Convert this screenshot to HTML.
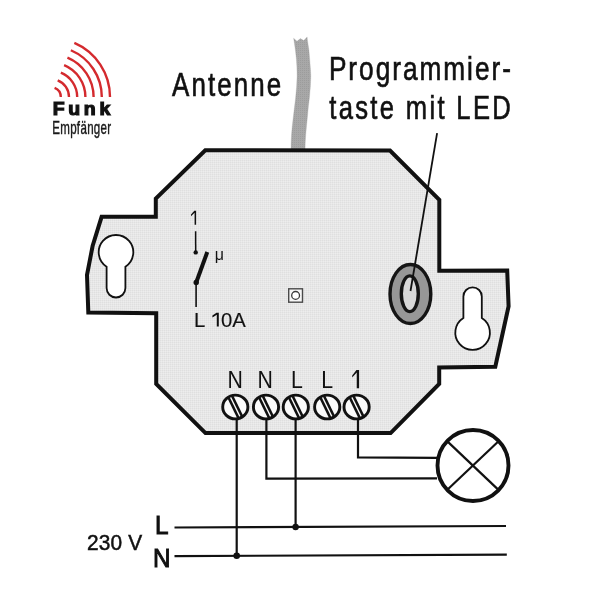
<!DOCTYPE html>
<html><head><meta charset="utf-8"><title>Funk Empfänger</title>
<style>
html,body{margin:0;padding:0;background:#fff;width:600px;height:600px;overflow:hidden}
svg{display:block;will-change:transform}
text{font-family:"Liberation Sans",sans-serif}
</style></head><body>
<svg width="600" height="600" viewBox="0 0 600 600">
<defs>
<pattern id="dith" width="2" height="2" patternUnits="userSpaceOnUse">
<rect width="2" height="2" fill="#e7e7e7"/>
<rect width="1" height="1" fill="#dfdfdf"/>
<rect x="1" y="1" width="1" height="1" fill="#ededed"/>
</pattern>
<pattern id="dith2" width="2" height="2" patternUnits="userSpaceOnUse">
<rect width="2" height="2" fill="#a8a8a8"/>
<rect width="1" height="1" fill="#9c9c9c"/>
</pattern>
</defs>
<rect width="600" height="600" fill="#fff"/>

<path d="M54.59 87.88 A9.80 9.80 0 0 1 60.80 97.00 M57.68 80.29 A18.00 18.00 0 0 1 69.00 97.00 M60.86 72.72 A26.20 26.20 0 0 1 77.20 97.00 M64.11 65.20 A34.40 34.40 0 0 1 85.40 97.00 M67.44 57.70 A42.60 42.60 0 0 1 93.60 97.00 M70.85 50.24 A50.80 50.80 0 0 1 101.80 97.00 M74.34 42.81 A59.00 59.00 0 0 1 110.00 97.00" fill="none" stroke="#d42a2e" stroke-width="2.4"/>
<text transform="translate(52.70 115.00) scale(1.03 1)" font-size="18.9" font-weight="bold" letter-spacing="3.59" fill="#111" stroke="#111" stroke-width="1.2">Funk</text>
<text transform="translate(52.20 134.10) scale(0.62 1)" font-size="18.6" letter-spacing="0.52" fill="#1a1a1a" stroke="#1a1a1a" stroke-width="0.45">Empfänger</text>
<text transform="translate(172.00 96.30) scale(0.79 1)" font-size="32.8" letter-spacing="2.66" fill="#111" stroke="#111" stroke-width="0.65">Antenne</text>
<text transform="translate(328.90 79.90) scale(0.8 1)" font-size="32.8" letter-spacing="2.47" fill="#111" stroke="#111" stroke-width="0.65">Programmier-</text>
<text transform="translate(329.20 118.80) scale(0.78 1)" font-size="32.8" letter-spacing="3.00" fill="#111" stroke="#111" stroke-width="0.65">taste mit LED</text>
<path d="M293.6 38.3 L297 41.3 L300.4 38.6 L303.75 40.6 L307.1 36.9 L307.4 40 L308.9 50 L309.75 60 L310.5 70 L310.8 76 L310.4 86 L309.5 97 L308.4 106 L307.6 115 L306.6 125 L305.7 135 L305.2 143 L305 151 L291 151 L291.1 143 L291.5 135 L292.2 127 L293.2 118 L294.4 108 L295.6 98 L296.6 87 L297.1 76 L296.9 67 L296.4 59 L295.5 51 L294.4 43 L293.6 38.3 Z" fill="url(#dith2)" stroke="#a8a8a8" stroke-width="0.3" stroke-linejoin="round"/>
<path d="M205.3 150.3 L390 150.5 L439.3 199.8 L439.3 270.8 L507.2 270.6 L508.6 306.3 L495.3 366.8 L439.2 367.4 L439.2 384 L390.6 433.1 L205.5 433.1 L156.2 383.8 L156.2 313.3 L88.3 312.5 L87 275 L92.6 246 L101.6 216.8 L155.8 216.8 L155.8 198.5 Z" fill="url(#dith)" stroke="#111" stroke-width="4" stroke-linejoin="miter"/>
<path d="M106.6 266.82 A17.3 17.3 0 1 1 125.4 266.82 L125.4 288.1 A9.4 9.4 0 0 1 106.6 288.1 Z" fill="#fff" stroke="#111" stroke-width="1.8"/>
<path d="M463.40 317.95 L463.40 296.5 A9.2 9.2 0 0 1 481.80 296.5 L481.80 317.95 A17.3 17.3 0 1 1 463.40 317.95 Z" fill="#fff" stroke="#111" stroke-width="1.8"/>
<ellipse cx="410.4" cy="294" rx="20.4" ry="29.5" fill="#979797" stroke="#151515" stroke-width="3.4"/>
<ellipse cx="409.8" cy="293.75" rx="8.5" ry="17.85" fill="#d8d8d8" stroke="#151515" stroke-width="3.4"/>
<line x1="437.1" y1="133.1" x2="410.5" y2="291" stroke="#111" stroke-width="1.8"/>
<path d="M194.60 224.80 L194.60 212.72 L191.00 216.20 L191.00 214.44 L194.30 210.80 L196.10 210.80 L196.10 224.80 Z" fill="#111"/>
<line x1="195.6" y1="231.3" x2="195.7" y2="252.5" stroke="#111" stroke-width="1.5"/>
<circle cx="195.7" cy="252.4" r="2.2" fill="#111"/>
<line x1="196.2" y1="282.5" x2="207.3" y2="252" stroke="#111" stroke-width="4"/>
<circle cx="196.2" cy="282.5" r="2.7" fill="#111"/>
<line x1="196.1" y1="282.5" x2="196.1" y2="307" stroke="#111" stroke-width="1.6"/>
<text transform="translate(214.80 259.50)" font-size="16.0" fill="#111">μ</text>
<text x="194.0" y="326.6" font-size="20.3" fill="#111" stroke="#111" stroke-width="0.15">L</text>
<path d="M216.80 326.60 L216.80 314.86 L212.40 317.50 L212.40 315.52 L216.50 312.70 L218.80 312.70 L218.80 326.60 Z" fill="#111"/>
<text x="220.9" y="326.6" font-size="20.3" fill="#111" stroke="#111" stroke-width="0.15">0A</text>
<rect x="288.7" y="288.8" width="13.8" height="13.4" fill="#f6f6f6" stroke="#4a4a4a" stroke-width="1.4"/>
<circle cx="295.6" cy="295.4" r="3.9" fill="#fff" stroke="#383838" stroke-width="1.3"/>
<text transform="translate(227.60 387.70) scale(0.88 1)" font-size="24.2" fill="#111">N</text>
<text transform="translate(257.60 387.70) scale(0.88 1)" font-size="24.2" fill="#111">N</text>
<text transform="translate(291.10 387.70) scale(0.88 1)" font-size="24.2" fill="#111">L</text>
<text transform="translate(321.30 387.70) scale(0.88 1)" font-size="24.2" fill="#111">L</text>
<path d="M356.75 388.30 L356.75 372.40 L352.20 377.60 L352.20 375.40 L356.45 370.00 L359.10 370.00 L359.10 388.30 Z" fill="#111"/>
<g stroke="#111" stroke-width="2.2" fill="none">
<path d="M236.7 420 L236.7 555.8"/>
<path d="M266.4 420 L266.4 478.7 L437 478.4"/>
<path d="M295.6 420 L295.6 527"/>
<path d="M358 420 L358 457.3 L437 457.8"/>
<path d="M174.5 527.5 L506 526"/>
<path d="M174.5 556.1 L506.8 554.6"/>
</g>
<circle cx="295.6" cy="527" r="3.2" fill="#111"/>
<circle cx="236.7" cy="555.8" r="3.3" fill="#111"/>
<g transform="translate(235.3 407.0)"><ellipse rx="12.6" ry="11.9" fill="#fafafa" stroke="#111" stroke-width="2.9"/><g transform="rotate(-26)"><line x1="-1.95" y1="-11.8" x2="-1.95" y2="11.8" stroke="#111" stroke-width="2.6"/><line x1="1.95" y1="-11.8" x2="1.95" y2="11.8" stroke="#111" stroke-width="2.6"/></g></g>
<g transform="translate(266.0 407.0)"><ellipse rx="12.6" ry="11.9" fill="#fafafa" stroke="#111" stroke-width="2.9"/><g transform="rotate(-26)"><line x1="-1.95" y1="-11.8" x2="-1.95" y2="11.8" stroke="#111" stroke-width="2.6"/><line x1="1.95" y1="-11.8" x2="1.95" y2="11.8" stroke="#111" stroke-width="2.6"/></g></g>
<g transform="translate(295.8 407.0)"><ellipse rx="12.6" ry="11.9" fill="#fafafa" stroke="#111" stroke-width="2.9"/><g transform="rotate(-26)"><line x1="-1.95" y1="-11.8" x2="-1.95" y2="11.8" stroke="#111" stroke-width="2.6"/><line x1="1.95" y1="-11.8" x2="1.95" y2="11.8" stroke="#111" stroke-width="2.6"/></g></g>
<g transform="translate(327.2 407.0)"><ellipse rx="12.6" ry="11.9" fill="#fafafa" stroke="#111" stroke-width="2.9"/><g transform="rotate(-26)"><line x1="-1.95" y1="-11.8" x2="-1.95" y2="11.8" stroke="#111" stroke-width="2.6"/><line x1="1.95" y1="-11.8" x2="1.95" y2="11.8" stroke="#111" stroke-width="2.6"/></g></g>
<g transform="translate(356.6 407.0)"><ellipse rx="12.6" ry="11.9" fill="#fafafa" stroke="#111" stroke-width="2.9"/><g transform="rotate(-26)"><line x1="-1.95" y1="-11.8" x2="-1.95" y2="11.8" stroke="#111" stroke-width="2.6"/><line x1="1.95" y1="-11.8" x2="1.95" y2="11.8" stroke="#111" stroke-width="2.6"/></g></g>
<circle cx="473" cy="465.5" r="35.5" fill="#fff" stroke="#111" stroke-width="3.9"/>
<g stroke="#111" stroke-width="2.2"><line x1="446.6" y1="440.6" x2="499" y2="490.4"/><line x1="498.8" y1="441" x2="446.8" y2="490.2"/></g>
<text transform="translate(87.10 550.10) scale(0.94 1)" font-size="22.2" letter-spacing="0.13" fill="#111" stroke="#111" stroke-width="0.5">230 V</text>
<text transform="translate(155.00 533.80) scale(0.95 1)" font-size="25.6" fill="#111" stroke="#111" stroke-width="0.95">L</text>
<text transform="translate(153.00 566.70) scale(0.95 1)" font-size="25.6" fill="#111" stroke="#111" stroke-width="0.95">N</text>
</svg>
</body></html>
